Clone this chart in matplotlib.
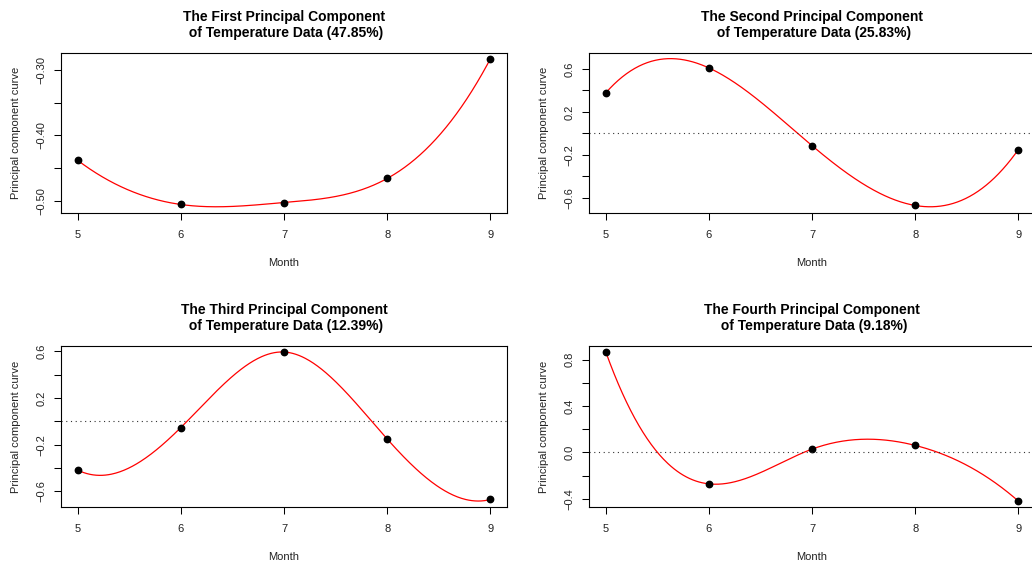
import numpy as np
import matplotlib
matplotlib.use("Agg")
import matplotlib.pyplot as plt
from matplotlib.ticker import FixedLocator, FixedFormatter

plt.rcParams['font.family'] = ['Liberation Sans', 'DejaVu Sans']

months = [5, 6, 7, 8, 9]
pc1 = [-0.438, -0.506, -0.503, -0.466, -0.282]
pc2 = [0.377, 0.609, -0.115, -0.672, -0.152]
pc3 = [-0.417, -0.054, 0.593, -0.152, -0.669]
pc4 = [0.867, -0.271, 0.029, 0.061, -0.419]

titles = [
    "The First Principal Component\n of Temperature Data (47.85%)",
    "The Second Principal Component\n of Temperature Data (25.83%)",
    "The Third Principal Component\n of Temperature Data (12.39%)",
    "The Fourth Principal Component\n of Temperature Data (9.18%)",
]
ytick_vals = [
    [-0.50, -0.45, -0.40, -0.35, -0.30],
    [-0.6, -0.4, -0.2, 0.0, 0.2, 0.4, 0.6],
    [-0.6, -0.4, -0.2, 0.0, 0.2, 0.4, 0.6],
    [-0.4, -0.2, 0.0, 0.2, 0.4, 0.6, 0.8],
]
ytick_labels = [
    ["\u22120.50", "", "\u22120.40", "", "\u22120.30"],
    ["\u22120.6", "", "\u22120.2", "", "0.2", "", "0.6"],
    ["\u22120.6", "", "\u22120.2", "", "0.2", "", "0.6"],
    ["\u22120.4", "", "0.0", "", "0.4", "", "0.8"],
]
zero_line = [False, True, True, True]


def fmm_spline(x, y, xout):
    """R's spline() default (Forsythe-Malcolm-Moler) cubic interpolation."""
    x = np.asarray(x, float); y = np.asarray(y, float)
    n = len(x); nm1 = n - 1
    b = np.zeros(n); c = np.zeros(n); d = np.zeros(n)
    d[0] = x[1] - x[0]
    c[1] = (y[1] - y[0]) / d[0]
    for i in range(1, nm1):
        d[i] = x[i + 1] - x[i]
        b[i] = 2.0 * (d[i - 1] + d[i])
        c[i + 1] = (y[i + 1] - y[i]) / d[i]
        c[i] = c[i + 1] - c[i]
    b[0] = -d[0]
    b[nm1] = -d[n - 2]
    c[0] = c[nm1] = 0.0
    if n > 3:
        c[0] = c[2] / (x[3] - x[1]) - c[1] / (x[2] - x[0])
        c[nm1] = c[n - 2] / (x[nm1] - x[n - 3]) - c[n - 3] / (x[n - 2] - x[n - 4])
        c[0] = c[0] * d[0] * d[0] / (x[3] - x[0])
        c[nm1] = -c[nm1] * d[n - 2] * d[n - 2] / (x[nm1] - x[n - 4])
    for i in range(1, n):
        t = d[i - 1] / b[i - 1]
        b[i] = b[i] - t * d[i - 1]
        c[i] = c[i] - t * c[i - 1]
    c[nm1] = c[nm1] / b[nm1]
    for i in range(n - 2, -1, -1):
        c[i] = (c[i] - d[i] * c[i + 1]) / b[i]
    b[nm1] = (y[nm1] - y[n - 2]) / d[n - 2] + d[n - 2] * (c[n - 2] + 2.0 * c[nm1])
    for i in range(nm1):
        b[i] = (y[i + 1] - y[i]) / d[i] - d[i] * (c[i + 1] + 2.0 * c[i])
        d[i] = (c[i + 1] - c[i]) / d[i]
        c[i] = 3.0 * c[i]
    c[nm1] = 3.0 * c[nm1]
    d[nm1] = d[n - 2]
    idx = np.clip(np.searchsorted(x, xout, side='right') - 1, 0, nm1 - 1)
    dx = xout - x[idx]
    return y[idx] + dx * (b[idx] + dx * (c[idx] + dx * d[idx]))


W, H = 1032, 569
fig = plt.figure(figsize=(W / 100, H / 100), dpi=100)

# pixel boxes: left, right, top, bottom
boxes = [
    (61, 507, 52.7, 212.7),
    (589.3, 1034.8, 52.7, 212.7),
    (61, 507, 346, 507),
    (589.3, 1034.8, 346, 507),
]
series = [pc1, pc2, pc3, pc4]

for k in range(4):
    l, r, t, b = boxes[k]
    ax = fig.add_axes([l / W, 1 - b / H, (r - l) / W, (b - t) / H])
    y = series[k]
    xs = np.linspace(months[0], months[-1], 400)
    ys = fmm_spline(months, y, xs)
    ax.plot(xs, ys, color='red', lw=0.9)
    ax.plot(months, y, 'o', color='black', ms=4.6, mec='black')
    lo, hi = ys.min(), ys.max()
    pad = 0.04 * (hi - lo)
    ax.set_ylim(lo - pad, hi + pad)
    ax.set_xlim(months[0] - 0.16, months[-1] + 0.16)
    if zero_line[k]:
        ax.axhline(0, color='#333333', lw=0.8, ls=(0, (1.0, 3.25)))
    ax.set_xticks(months)
    ax.set_xticklabels([str(m) for m in months])
    ax.yaxis.set_major_locator(FixedLocator(ytick_vals[k]))
    ax.yaxis.set_major_formatter(FixedFormatter(ytick_labels[k]))
    ax.tick_params(axis='both', direction='out', length=5, width=0.75,
                   labelsize=8, color='black', labelcolor='#222222')
    ax.tick_params(axis='x', pad=7.5)
    ax.tick_params(axis='y', pad=5.5)
    for lab in ax.get_yticklabels():
        lab.set_rotation(90)
        lab.set_va('center')
    for s in ax.spines.values():
        s.set_linewidth(0.8)
        s.set_color('black')
    ax.set_xlabel("Month", fontsize=8, color='#222222')
    ax.xaxis.set_label_coords(0.5, -50.5 / (b - t))
    ax.xaxis.label.set_va('center')
    ax.set_ylabel("Principal component curve", fontsize=8, color='#222222')
    ax.yaxis.set_label_coords(-45 / (r - l), 0.5)
    ax.yaxis.label.set_va('center')
    ax.set_title(titles[k], fontsize=10, fontweight='bold', pad=11.3,
                 linespacing=1.22)

fig.savefig("out.png", dpi=100)
